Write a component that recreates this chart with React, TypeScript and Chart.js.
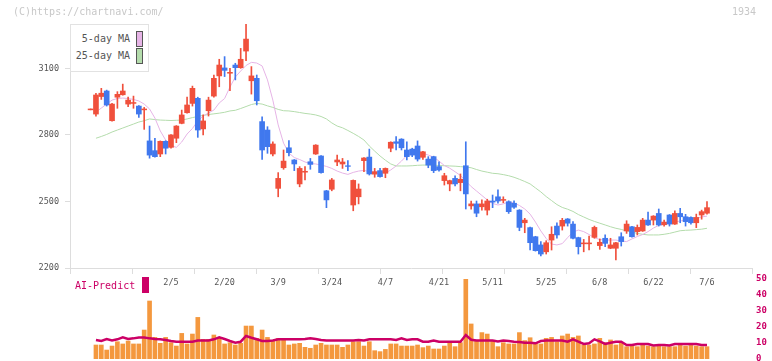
import React, { useEffect, useRef } from "react";
import { Chart, registerables } from "chart.js";

Chart.register(...registerables);

// ---- data (index 0 .. 115 = trading days) ----
const tickIndex = [15, 25, 35, 45, 55, 65, 75, 85, 95, 105, 115];
const tickLabels = ["2/5", "2/20", "3/9", "3/24", "4/7", "4/21", "5/11", "5/25", "6/8", "6/22", "7/6"];
const priceTicks = [2200, 2500, 2800, 3100];
const volumeTicks = [0, 10, 20, 30, 40, 50];

const opens = [2913,2894,2973,2998,2864,2970,2981,2939,2942,2930, 2913,2773,2729,2714,2771,2744,2785,2852,2900,2942, 2965,2827,2909,2975,3066,3102,3078,3115,3103,3178, 3044,3055,2860,2822,2714,2559,2652,2742,2687,2579, 2632,2679,2714,2705,2548,2555,2678,2669,2661,2484, 2521,2684,2700,2623,2639,2627,2740,2769,2781,2732, 2736,2750,2699,2691,2702,2657,2594,2579,2604,2585, 2661,2480,2489,2476,2461,2502,2521,2505,2499,2492, 2461,2404,2382,2341,2304,2273,2326,2389,2389,2421, 2398,2337,2309,2309,2338,2301,2334,2289,2289,2341, 2367,2386,2364,2367,2416,2416,2446,2395,2439,2398, 2446,2431,2428,2404,2439,2447];
const highs = [2917,2988,3010,3002,2942,2995,3029,2970,2975,2932, 2924,2840,2785,2773,2774,2802,2842,2912,2970,3020, 2970,2890,2970,3070,3141,3153,3100,3123,3190,3300, 3108,3070,2882,2837,2769,2630,2732,2774,2689,2657, 2657,2694,2756,2707,2550,2604,2709,2694,2684,2597, 2579,2698,2736,2649,2649,2651,2769,2792,2783,2769, 2740,2773,2726,2702,2704,2679,2627,2596,2615,2624, 2769,2502,2502,2507,2510,2529,2552,2521,2503,2503, 2463,2424,2384,2343,2319,2323,2386,2404,2424,2423, 2409,2339,2329,2344,2389,2331,2349,2334,2316,2359, 2413,2388,2394,2424,2452,2436,2466,2416,2441,2458, 2469,2442,2431,2443,2461,2499];
const lows = [2913,2885,2960,2930,2862,2920,2979,2927,2920,2879, 2825,2695,2700,2702,2714,2740,2765,2850,2898,2930, 2789,2800,2885,2970,3017,3063,2999,3048,3100,3135, 2984,2935,2690,2717,2705,2521,2645,2705,2639,2566, 2597,2645,2712,2628,2472,2548,2661,2649,2639,2458, 2489,2634,2619,2609,2610,2607,2724,2732,2732,2687, 2702,2682,2690,2652,2630,2637,2574,2548,2570,2548, 2466,2465,2431,2461,2439,2472,2492,2494,2446,2469, 2368,2359,2281,2276,2254,2263,2281,2334,2371,2389, 2331,2263,2273,2281,2334,2284,2296,2287,2236,2299, 2356,2339,2349,2365,2392,2394,2389,2389,2389,2396, 2404,2389,2398,2382,2420,2443];
const closes = [2917,2980,2988,2935,2939,2983,2998,2957,2946,2894, 2917,2709,2702,2771,2740,2800,2840,2890,2935,3010, 2822,2863,2957,3055,3115,3091,3082,3103,3141,3232, 3066,2954,2732,2747,2759,2604,2682,2720,2669,2649, 2636,2667,2754,2630,2507,2597,2687,2678,2658,2595, 2556,2696,2624,2634,2612,2649,2767,2762,2742,2702, 2709,2691,2724,2664,2639,2642,2616,2594,2579,2600, 2534,2489,2447,2489,2502,2497,2502,2509,2454,2474, 2383,2416,2314,2278,2263,2314,2352,2349,2415,2402, 2334,2296,2313,2313,2383,2316,2311,2304,2314,2319, 2398,2341,2383,2416,2394,2434,2394,2407,2398,2446, 2431,2409,2404,2428,2454,2472];

const ma5 = [null, 2903,2921,2939,2957,2964,2966,2964,2960,2953,2939, 2917,2876,2818,2777,2752,2744,2768,2804,2829,2863, 2885,2899,2912,2944,2964,3016,3061,3088,3113,3127, 3124,3111,3048,2957,2845,2763,2718,2698,2689,2678, 2671,2669,2664,2658,2649,2637,2628,2622,2631,2637, 2640,2634,2634,2633,2628,2642,2660,2682,2707,2721, 2724,2718,2709,2700,2682,2662,2650,2634,2617,2592, 2567,2547,2527,2507,2491,2484,2489,2498,2493,2482, 2466,2443,2407,2367,2333,2308,2304,2310,2337,2362, 2371,2364,2351,2337,2328,2326,2326,2326,2322,2319, 2331,2342,2351,2364,2380,2392,2396,2403,2407,2412, 2416,2419,2424,2430,2434];
const ma25 = [null, 2785,2793,2802,2813,2822,2831,2840,2849,2858,2864, 2872,2869,2867,2866,2865,2866,2867,2872,2878,2883, 2888,2892,2895,2898,2902,2908,2911,2919,2928,2937, 2942,2939,2931,2924,2915,2909,2908,2905,2901,2897, 2894,2890,2883,2872,2854,2840,2832,2820,2807,2793, 2777,2750,2727,2705,2686,2669,2660,2660,2660,2661, 2663,2664,2664,2664,2662,2661,2660,2659,2657,2655, 2652,2644,2637,2632,2627,2625,2621,2616,2609,2600, 2590,2579,2561,2543,2522,2504,2486,2473,2465,2455, 2441,2430,2419,2410,2402,2394,2386,2379,2374,2367, 2362,2356,2352,2349,2349,2349,2352,2356,2362,2368, 2370,2371,2373,2375,2379];

const volumes = [null, 8.75,8.75,5.6,8.1,10.8,9.4,11.25,9.4,9.4,18.1, 36.25,13.5,9.8,13.5,10.2,8.1,16,9.4,15.6,26, 12.3,12.3,15,13.5,9.4,10.2,8.75,9.8,20.6,20.6, 12.9,18.1,13.5,11.5,12.9,12.3,8.75,9.4,9.8,7.3, 6.7,8.75,9.8,8.75,8.75,8.75,7.3,8.75,10.8,10.8, 8.1,10.8,5.2,4.6,6,9.4,9.4,8.1,8.1,8.1, 8.75,7.1,8.1,6.25,6.25,8.1,9.8,7.7,10.2,50, 21.9,11.5,16.5,15.6,11.5,7.7,10.2,9.4,9.4,16.5, 11.5,13.3,9.8,9.4,12.9,13.5,10.8,14.4,15.6,13.5, 14.4,8.75,8.75,9.4,12.9,10.2,11.9,8.75,10.2,7.7, 8.75,7.7,8.75,8.1,7.7,8.1,7.7,7.7,7.7,8.75, 8.1,8.75,8.1,7.7,7.7];
const aiPredict = [null, 11.9,11.25,12.5,11.6,12.3,13.5,12.5,12.9,13.5,13.5, 12.9,12.5,12.3,11.9,11.25,10.8,10.8,10.8,10.8,11.6, 11.6,11.6,12.3,13.5,12.5,11.25,10.2,10.8,14.4,13.3, 12.3,11.25,11.25,11.6,12.3,12.3,12.3,12.3,12.3,12.5, 12.9,12.5,11.9,11.6,11.6,11.6,11.6,11.6,11.6,11.9, 11.6,12.3,12.3,12.3,12.3,12.3,11.9,12.9,11.9,12.3, 12.3,10.8,10.8,11.6,10.8,10.8,10.8,10.8,10.8,15, 12,11.6,11.6,11.6,11.6,11,11.6,11.2,10.8,10.6, 10.2,10.2,9.8,11.2,11.6,11.6,11.6,11.6,10.8,12.3, 10.8,9.4,9.8,12.3,11,9.4,10.2,10.8,10.8,8.75, 8.75,9.4,9.4,9.4,8.4,8.75,8.75,8.4,9.4,9.4, 9.4,9.4,9.4,8.75,8.75];

// ---- layout / style ----
const X_MIN = -3.843;
const X_MAX = 123.396;
const UP = "#f0503c";
const DOWN = "#4078ee";
const MA5_COLOR = "#e6b4e6";
const MA25_COLOR = "#b4dcac";
const VOL_COLOR = "#f4983e";
const AI_COLOR = "#cc0066";
const AXIS_COLOR = "#dddddd";
const MONO = "'DejaVu Sans Mono', monospace";

export default function App() {
  const mainRef = useRef<HTMLCanvasElement>(null);
  const volRef = useRef<HTMLCanvasElement>(null);

  useEffect(() => {
    const idx = opens.map((_, i) => i);
    const candleColor = (ctx: any) =>
      closes[ctx.dataIndex] >= opens[ctx.dataIndex] ? UP : DOWN;

    const main = new Chart(mainRef.current as HTMLCanvasElement, {
      type: "bar",
      data: {
        datasets: [
          {
            type: "bar",
            data: idx.map((i) => ({ x: i, y: [opens[i], closes[i]] })) as any,
            backgroundColor: candleColor,
            grouped: false,
            barPercentage: 1,
            categoryPercentage: 1,
            maxBarThickness: 5,
            order: 1,
          } as any,
          {
            type: "bar",
            data: idx.map((i) => ({ x: i, y: [lows[i], highs[i]] })) as any,
            backgroundColor: candleColor,
            grouped: false,
            barPercentage: 1,
            categoryPercentage: 1,
            maxBarThickness: 1,
            order: 2,
          } as any,
          {
            type: "line",
            data: idx.map((i) => ({ x: i, y: ma5[i] })) as any,
            borderColor: MA5_COLOR,
            borderWidth: 1,
            pointRadius: 0,
            tension: 0,
            order: 3,
          } as any,
          {
            type: "line",
            data: idx.map((i) => ({ x: i, y: ma25[i] })) as any,
            borderColor: MA25_COLOR,
            borderWidth: 1,
            pointRadius: 0,
            tension: 0,
            order: 4,
          } as any,
        ],
      },
      options: {
        animation: false,
        responsive: false,
        events: [],
        layout: { padding: { left: 0, right: 20, top: 24, bottom: 0 } },
        plugins: { legend: { display: false }, tooltip: { enabled: false } },
        scales: {
          x: {
            type: "linear",
            position: "bottom",
            min: X_MIN,
            max: X_MAX,
            offset: false,
            weight: 0,
            grid: { display: true, offset: false, drawOnChartArea: false, drawTicks: true, tickLength: 6, color: AXIS_COLOR },
            border: { display: true, color: AXIS_COLOR },
            ticks: { display: false },
            afterBuildTicks: (s: any) => {
              s.ticks = Array.from({ length: 12 }, (_, k) => ({ value: X_MIN + (k * (X_MAX - X_MIN)) / 11 }));
            },
            afterFit: (s: any) => {
              s.height = 8;
              s.paddingLeft = 0;
              s.paddingRight = 0;
            },
          } as any,
          xl: {
            type: "linear",
            position: "bottom",
            min: X_MIN,
            max: X_MAX,
            offset: false,
            weight: 1,
            grid: { display: false, offset: false, drawTicks: false },
            border: { display: false },
            ticks: {
              autoSkip: false,
              maxRotation: 0,
              padding: 2,
              color: "#555555",
              font: { family: MONO, size: 8.5 },
              callback: (v: any) => {
                const k = tickIndex.indexOf(Number(v));
                return k >= 0 ? tickLabels[k] : "";
              },
            },
            afterBuildTicks: (s: any) => {
              s.ticks = tickIndex.map((v) => ({ value: v }));
            },
            afterFit: (s: any) => {
              s.height = 24;
              s.paddingLeft = 0;
              s.paddingRight = 0;
            },
          } as any,
          y: {
            type: "linear",
            position: "left",
            min: 2200,
            max: 3300,
            grid: { display: true, drawOnChartArea: false, drawTicks: true, tickLength: 5, color: AXIS_COLOR },
            border: { display: true, color: AXIS_COLOR },
            ticks: {
              color: "#555555",
              padding: 6,
              font: { family: MONO, size: 8.5 },
              callback: (v: any) => String(v),
            },
            afterBuildTicks: (s: any) => {
              s.ticks = priceTicks.map((v) => ({ value: v }));
            },
            afterFit: (s: any) => {
              s.width = 70;
              s.paddingTop = 0;
              s.paddingBottom = 0;
            },
          } as any,
        },
      },
    });

    const vol = new Chart(volRef.current as HTMLCanvasElement, {
      type: "bar",
      data: {
        datasets: [
          {
            type: "line",
            data: idx.map((i) => ({ x: i, y: aiPredict[i] })) as any,
            borderColor: AI_COLOR,
            borderWidth: 2.5,
            pointRadius: 0,
            tension: 0,
            order: 0,
          } as any,
          {
            type: "bar",
            data: idx.map((i) => ({ x: i, y: volumes[i] })) as any,
            backgroundColor: VOL_COLOR,
            barThickness: 4,
            order: 1,
          } as any,
        ],
      },
      options: {
        animation: false,
        responsive: false,
        events: [],
        layout: { padding: { left: 70, right: 0, top: 14, bottom: 2 } },
        plugins: { legend: { display: false }, tooltip: { enabled: false } },
        scales: {
          x: { type: "linear", min: X_MIN, max: X_MAX, offset: false, display: false, grid: { offset: false } } as any,
          y: {
            type: "linear",
            position: "right",
            min: 0,
            max: 50,
            grid: { display: false, drawTicks: false },
            border: { display: false },
            ticks: {
              color: AI_COLOR,
              padding: 4,
              font: { family: MONO, size: 9, weight: "bold" },
              callback: (v: any) => String(v),
            },
            afterBuildTicks: (s: any) => {
              s.ticks = volumeTicks.map((v) => ({ value: v }));
            },
            afterFit: (s: any) => {
              s.width = 20;
              s.paddingTop = 0;
              s.paddingBottom = 0;
            },
          } as any,
        },
      },
    });

    return () => {
      main.destroy();
      vol.destroy();
    };
  }, []);

  const txt: React.CSSProperties = {
    position: "absolute",
    fontFamily: MONO,
    fontSize: 10,
    lineHeight: "12px",
    whiteSpace: "nowrap",
  };

  return (
    <div style={{ position: "fixed", left: 0, top: 0, width: 772, height: 361, overflow: "hidden", background: "#fff" }}>
      <canvas ref={mainRef} width={772} height={300} style={{ position: "absolute", left: 0, top: 0 }} />
      <canvas ref={volRef} width={772} height={96} style={{ position: "absolute", left: 0, top: 265 }} />
      <div style={{ ...txt, left: 13, top: 6, color: "#c8c8c8" }}>(C)https://chartnavi.com/</div>
      <div style={{ ...txt, left: 732, top: 6, color: "#c8c8c8" }}>1934</div>
      <div
        style={{
          position: "absolute",
          left: 70,
          top: 24,
          width: 79,
          height: 48,
          boxSizing: "border-box",
          border: "1px solid #e2e2e2",
          background: "#fff",
        }}
      />
      <div style={{ ...txt, left: 70, width: 60, textAlign: "right", top: 33, color: "#555" }}>5-day MA</div>
      <div style={{ ...txt, left: 70, width: 60, textAlign: "right", top: 50, color: "#555" }}>25-day MA</div>
      <div style={{ position: "absolute", left: 136, top: 31, width: 7, height: 16, boxSizing: "border-box", border: "1px solid #555", background: MA5_COLOR }} />
      <div style={{ position: "absolute", left: 136, top: 48, width: 7, height: 16, boxSizing: "border-box", border: "1px solid #555", background: MA25_COLOR }} />
      <div style={{ ...txt, left: 75, top: 280, color: AI_COLOR }}>AI-Predict</div>
      <div style={{ position: "absolute", left: 142, top: 277, width: 7, height: 16, background: AI_COLOR }} />
    </div>
  );
}
